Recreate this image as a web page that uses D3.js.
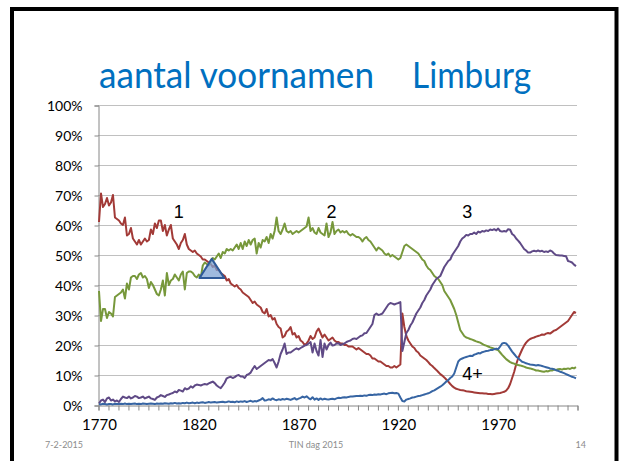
<!DOCTYPE html>
<html>
<head>
<meta charset="utf-8">
<script src="https://cdn.jsdelivr.net/npm/d3@7"></script>
<style>
  html, body { margin: 0; padding: 0; background: #fff; }
  svg { display: block; }
</style>
</head>
<body>
<div id="chart"></div>
<script>
// =========================
// DATA (share of people with 1, 2, 3, 4+ first names, %)
// =========================
const years = d3.range(1770, 2010);

const oneName = [
  61, 70.5, 66, 67, 69, 66.5, 67.5, 70, 62.5, 62,
  61.5, 60.5, 60, 62.5, 56.5, 57, 59, 55.5, 54.5, 53.5,
  55, 53.5, 54.5, 55.5, 54.5, 55, 58.5, 57, 60.5, 59,
  61.5, 61.5, 58, 60, 56.5, 58.5, 60, 55.5, 54.5, 53.5,
  52, 54, 55, 57, 53.5, 52, 51.5, 51, 51.5, 50.5,
  50, 49.5, 48.5, 48.5, 48, 47.5, 47, 46, 46.5, 45,
  45, 44, 43.5, 43, 41.5, 42, 40.5, 40, 39.5, 40,
  39, 38.5, 37.5, 37, 36.5, 36, 35, 34, 34.5, 33.5,
  33, 32.5, 31, 30.5, 32, 29.5, 30, 28.5, 29, 27,
  26, 25.5, 22.5, 23, 24.5, 25, 26, 23.5, 24, 22.5,
  23, 21.5, 21, 20, 20.5, 21.5, 23, 22, 22.5, 24.5,
  25.5, 24, 22.5, 23.5, 22.5, 21.5, 22, 22.5, 21.5, 21,
  21, 20.5, 20.5, 20, 20, 19.5, 19.5, 19.5, 19, 18.5,
  19, 18.5, 18, 17.5, 17, 17, 16.5, 15.5, 15.5, 15,
  14.5, 14.5, 14, 13.5, 13, 13, 12.5, 12.5, 13, 12.5,
  13, 13.5, 30.5, 26, 23, 21.5, 20.5, 19.5, 19, 18,
  17.5, 16.5, 16, 15.5, 15, 14.3, 13.5, 13, 12.3, 11.7,
  11, 10.3, 9.8, 9.2, 8.5, 7.8, 7, 6.3, 5.8, 5.4,
  5.2, 5, 4.9, 4.8, 4.6, 4.5, 4.4, 4.3, 4.2, 4.1,
  4, 3.9, 3.9, 3.8, 3.8, 3.7, 3.7, 3.6, 3.7, 3.8,
  3.9, 4, 4.2, 4.4, 4.8, 5.6, 7, 9, 11, 13.5,
  15.5, 17, 18.5, 19.8, 20.8, 21.5, 22, 22.3, 22.5, 22.8,
  23, 23.2, 23.5, 23.4, 23.8, 24, 23.8, 24.3, 24.8, 25,
  25.5, 26, 26.5, 27, 27.5, 28, 29, 30, 31, 30.7
];

const twoNames = [
  38, 28, 32, 32, 29, 31, 30.5, 29.5, 36, 36.5,
  37, 37.5, 38.5, 35.5, 40.5, 38.5, 42.5, 43, 43, 42,
  43.5, 44, 42.5, 43, 42, 39, 41, 40, 38.5, 37,
  36.5, 38.5, 41.5, 36.5, 44, 40, 41.5, 42, 43.5, 42.5,
  41.5, 43.5, 44.5, 38.5, 44, 44.5, 44.5, 44, 43, 42.5,
  43.5, 42.5, 46.5, 47.5, 47, 46.5, 48, 49, 48.5, 49.5,
  50.5, 49, 51, 50.5, 52, 51.5, 52, 51.5, 52.5, 53.5,
  52, 54, 52, 54.5, 53, 55, 53.5, 55, 55.5, 50.5,
  54, 52.5, 55, 54.5, 56, 54, 57, 55.5, 58, 62.5,
  58, 57, 58.5, 60.5, 58, 57.5, 58, 57, 57.5, 58,
  57.5, 58, 58.5, 59, 59.5, 62.5, 58, 59, 57.5, 57,
  59, 57.5, 57, 56.5, 60.5, 56, 57.5, 61, 57, 58,
  58.5, 57.5, 58, 57.5, 58, 57, 56.5, 57, 56.5, 56,
  56, 55.5, 54.5, 55.5, 56, 55, 54.5, 53.5, 52.5, 51.5,
  52.5, 52, 51.5, 50.5, 50, 50.5, 49.5, 50, 49.5, 49,
  48.5, 49, 51, 53, 53.5, 53, 52.5, 52, 51.5, 51,
  50.5, 49.5, 48.5, 48, 46.5, 45.5, 45, 44, 43, 42.5,
  42, 41, 40, 38, 37, 36, 35, 33.5, 32, 30,
  27.5, 25, 24, 23, 22.5, 22.3, 22, 21.8, 21.5, 21.2,
  21, 20.8, 20.4, 20, 19.8, 19.5, 19.2, 19, 18.8, 18.5,
  18.3, 17.5, 16.7, 16, 15.3, 14.8, 14.3, 14, 13.8, 13.5,
  13.3, 13.2, 13, 12.8, 12.5, 12.3, 12.2, 12, 11.8, 11.5,
  11.5, 11.3, 11.2, 11.1, 11.3, 11.2, 11.5, 11.5, 11.8, 11.7,
  11.9, 12, 11.8, 12.1, 12, 12.2, 12, 12.4, 12.2, 12.6
];

const threeNames = [
  0.5, 1.5, 1.8, 1, 2.2, 2.5, 1.5, 1.8, 1.2, 1.5,
  1, 2, 2.8, 2.5, 2.3, 2.8, 2.2, 2.5, 3, 2.8,
  2.3, 2.5, 2.8, 2.2, 2.5, 2.8, 2.2, 2, 1.7, 2.5,
  2.8, 3.3, 3, 2.7, 3.3, 3.5, 3.8, 4, 4.5, 4.2,
  5, 4.8, 4.5, 5.6, 5.2, 5.5, 6.2, 5.8, 6.5, 6.8,
  6.7, 6.5, 6.8, 7, 6.8, 7.2, 7.5, 7.8, 7.3, 6.5,
  6, 5.6, 6.5, 7.5, 8.9, 9.2, 9.4, 9, 9.3, 9.8,
  10, 9.5, 9.5, 9, 10, 10.3, 10.8, 12, 13, 12,
  12.5, 13, 13.5, 14, 14.5, 15, 14.8, 15.3, 14, 12.5,
  14.5, 17, 18.5, 20.5, 17, 17.5, 17.5, 18, 18.5, 18.9,
  18.5, 19, 19.4, 19.8, 20, 20.5, 21, 17.5, 20.5, 18,
  16.5, 21.7, 16, 20.5, 18.5, 20, 20.8, 19.8, 20, 20.5,
  20.6, 20, 20.3, 20.5, 21, 21.3, 21.5, 22, 22.2, 22,
  22.5, 23, 23.2, 23.9, 24, 25, 26, 27, 30, 30.5,
  30, 30.2, 30.5, 31.5, 32.5, 33.5, 34, 33.8, 33.5, 33.8,
  34, 34.3, 18, 21, 24, 25, 26.5, 27.5, 29, 30.5,
  31.5, 32.5, 34, 35, 36.5, 37.5, 38.5, 40, 41, 42,
  42.5, 43, 44.5, 46, 47, 48, 48.5, 50, 51, 52,
  53, 54.5, 55.5, 56, 56.7, 56.5, 57, 57, 57.5, 57,
  57.8, 57.5, 58, 57.8, 58.2, 58, 58.5, 58.3, 58.6, 58.2,
  58.8, 58, 57.8, 58, 57.8, 58.6, 58.4, 57, 56.5, 55.5,
  54.8, 54, 53, 52, 51.5, 50.8, 50.8, 51.2, 51.4, 51.2,
  51.5, 51.2, 51.4, 51, 51.2, 51, 51.5, 51.2, 50.5, 50,
  49.9, 49.8, 49.8, 49.7, 49.6, 48, 47.8, 47.5, 46.8, 46.3
];

const fourPlus = [
  0.3, 0.2, 0.4, 0.3, 0.2, 0.3, 0.3, 0.2, 0.4, 0.3,
  0.3, 0.4, 0.3, 0.5, 0.3, 0.4, 0.3, 0.4, 0.5, 0.3,
  0.4, 0.3, 0.5, 0.4, 0.3, 0.4, 0.5, 0.4, 0.3, 0.5,
  0.4, 0.5, 0.4, 0.6, 0.5, 0.4, 0.6, 0.5, 0.7, 0.5,
  0.6, 0.5, 0.7, 0.6, 0.8, 0.6, 0.7, 0.8, 0.6, 0.8,
  0.7, 0.8, 0.9, 0.7, 0.8, 1, 0.8, 0.9, 1, 0.8,
  0.9, 1, 1.1, 0.9, 1, 1.2, 1, 1.1, 0.9, 1.2,
  1, 1.2, 1.1, 1.3, 1, 1.2, 1.4, 1.1, 1.3, 1.2,
  1.5, 1.8, 2.3, 1.5, 1.6, 1.9, 1.7, 2.2, 1.8, 1.6,
  1.9, 1.7, 2, 1.8, 2.1, 1.9, 1.7, 2, 2.3, 1.8,
  2.1, 2.4, 2.8, 2.5, 2.9, 2.3, 1.9, 2.6, 1.8, 2.2,
  1.7, 2.2, 1.8, 2.1, 1.9, 1.8, 2, 2.1, 1.9, 2.2,
  2.4, 2.3, 2.5, 2.6, 2.5, 2.7, 2.8, 2.8, 2.9, 3,
  3, 3.1, 3, 3.2, 3.1, 3.3, 3.4, 3.3, 3.5, 3.4,
  3.6, 3.5, 3.7, 3.8, 3.6, 3.9, 4, 4.1, 3.9, 4,
  3.8, 2.5, 1.3, 1.2, 1.8, 2, 2.2, 2.5, 2.6, 2.8,
  3, 3.1, 3.3, 3.5, 3.7, 3.9, 4.2, 4.6, 4.9, 5.3,
  5.7, 6.1, 6.6, 7.2, 7.8, 8.3, 9, 9.5, 10.5, 12.5,
  14.5, 15.2, 15.5, 15.8, 16, 16.2, 16.4, 16.3, 16.8, 17,
  17.3, 17.2, 17.6, 17.8, 18, 18.1, 18.3, 18.3, 18.6, 18.8,
  18.6, 19.5, 20.5, 20.7, 20.5, 19.8, 18.8, 17.8, 17, 16.2,
  15.6, 15, 14.4, 14.2, 13.9, 13.7, 13.5, 13.4, 13.3, 13.2,
  13.3, 13.2, 13, 12.8, 12.6, 12.4, 12.2, 12.1, 11.9, 11.6,
  11.4, 11.1, 10.9, 10.6, 10.3, 10, 9.7, 9.4, 9.2, 8.9
];

const yTicks = [0, 10, 20, 30, 40, 50, 60, 70, 80, 90, 100];
const xLabels = [1770, 1820, 1870, 1920, 1970];

// labels in the plot: series number + year/value where it sits
const seriesLabels = [
  { text: "1", year: 1807.5, value: 62.3 },
  { text: "2", year: 1884, value: 62.3 },
  { text: "3", year: 1952, value: 62.3 },
  { text: "4+", year: 1952, value: 8.3 }
];

// marker triangle where lines 1 and 2 cross (apex + base corners)
const crossingTriangle = [
  { year: 1826.5, value: 48.7 },
  { year: 1832.8, value: 42.3 },
  { year: 1820.3, value: 42.3 }
];

// =========================
// SVG + SCALES
// =========================
const width = 621, height = 461;

const svg = d3.select("#chart").append("svg")
  .attr("width", width)
  .attr("height", height);

svg.append("rect")
  .attr("width", width).attr("height", height)
  .attr("fill", "#fff");

const plot = { left: 98, right: 577, top: 105, bottom: 405 };

// category axis: each year sits in the middle of its slot
const x = d3.scaleLinear()
  .domain([years[0] - 0.5, years[years.length - 1] + 0.5])
  .range([plot.left, plot.right]);

const y = d3.scaleLinear()
  .domain([0, 100])
  .range([plot.bottom, plot.top]);

// =========================
// GRID + AXES
// =========================
svg.append("g")
  .selectAll("line")
  .data(yTicks.filter(d => d > 0))
  .enter()
  .append("line")
  .attr("x1", plot.left)
  .attr("x2", plot.right)
  .attr("y1", d => y(d) + 0.5)
  .attr("y2", d => y(d) + 0.5)
  .attr("stroke", "#c0c0c0")
  .attr("stroke-width", 1);

const yAxis = svg.append("g")
  .attr("transform", `translate(${plot.left + 0.5},0.5)`)
  .call(d3.axisLeft(y).tickValues(yTicks).tickSize(4).tickFormat(d => d + "%"));

yAxis.select(".domain").attr("stroke", "#868686");
yAxis.selectAll(".tick line").attr("stroke", "#868686");
yAxis.selectAll(".tick text")
  .attr("x", -16)
  .attr("dy", "0.36em")
  .attr("fill", "#000")
  .attr("font-family", "Lato, 'Open Sans', sans-serif")
  .attr("font-size", "14px");

// minor ticks every 5 categories, on slot boundaries
const xTickAxis = svg.append("g")
  .attr("transform", `translate(0.5,${plot.bottom + 0.5})`)
  .call(d3.axisBottom(x)
    .tickValues(d3.range(years[0] - 0.5, years[years.length - 1] + 1, 5))
    .tickSize(5)
    .tickFormat(""));

xTickAxis.select(".domain").attr("stroke", "#868686");
xTickAxis.selectAll(".tick line").attr("stroke", "#868686");

const xLabelAxis = svg.append("g")
  .attr("transform", `translate(0,${plot.bottom})`)
  .call(d3.axisBottom(x).tickValues(xLabels).tickSize(0).tickFormat(d3.format("d")));

xLabelAxis.select(".domain").remove();
xLabelAxis.selectAll(".tick text")
  .attr("y", 14)
  .attr("dy", "0.71em")
  .attr("fill", "#000")
  .attr("font-family", "Lato, 'Open Sans', sans-serif")
  .attr("font-size", "15px");

// =========================
// LINES
// =========================
const series = [
  { values: oneName, color: "#a23a37" },
  { values: twoNames, color: "#77983b" },
  { values: threeNames, color: "#5f4a86" },
  { values: fourPlus, color: "#3765a3" }
];

const line = d3.line()
  .x((d, i) => x(years[i]))
  .y(d => y(d));

svg.append("g")
  .selectAll("path")
  .data(series)
  .enter()
  .append("path")
  .attr("d", d => line(d.values))
  .attr("fill", "none")
  .attr("stroke", d => d.color)
  .attr("stroke-width", 2)
  .attr("stroke-linejoin", "round");

// crossing marker
const triLine = d3.line()
  .x(d => x(d.year))
  .y(d => y(d.value));

svg.append("path")
  .attr("d", triLine(crossingTriangle) + "Z")
  .attr("fill", "#7fa3d3")
  .attr("fill-opacity", 0.75)
  .attr("stroke", "#2f5a98")
  .attr("stroke-width", 2)
  .attr("stroke-linejoin", "round");

svg.append("g")
  .selectAll("text")
  .data(seriesLabels)
  .enter()
  .append("text")
  .attr("x", d => x(d.year))
  .attr("y", d => y(d.value))
  .text(d => d.text)
  .attr("fill", "#000")
  .attr("font-family", "'Liberation Sans', Arial, sans-serif")
  .attr("font-size", "18px");

// =========================
// TITLE / FOOTER / FRAME
// =========================
const title = svg.append("text")
  .attr("y", 88)
  .attr("fill", "#0070c0")
  .attr("font-family", "Lato, 'Open Sans', sans-serif")
  .attr("font-size", "37px");

title.append("tspan").attr("x", 99).attr("textLength", 275)
  .attr("lengthAdjust", "spacingAndGlyphs").text("aantal voornamen");
title.append("tspan").attr("x", 412).attr("textLength", 119)
  .attr("lengthAdjust", "spacingAndGlyphs").text("Limburg");

const footer = svg.append("g")
  .attr("fill", "#8c8c8c")
  .attr("font-family", "Lato, 'Open Sans', sans-serif")
  .attr("font-size", "9px");

footer.append("text").attr("x", 45).attr("y", 448).text("7-2-2015");
footer.append("text").attr("x", 316).attr("y", 448).attr("text-anchor", "middle").text("TIN dag 2015");
footer.append("text").attr("x", 586).attr("y", 448).attr("text-anchor", "end").text("14");

svg.append("rect")
  .attr("x", 12)
  .attr("y", 9)
  .attr("width", 604.5)
  .attr("height", 480)
  .attr("fill", "none")
  .attr("stroke", "#000")
  .attr("stroke-width", 4);
</script>
</body>
</html>
